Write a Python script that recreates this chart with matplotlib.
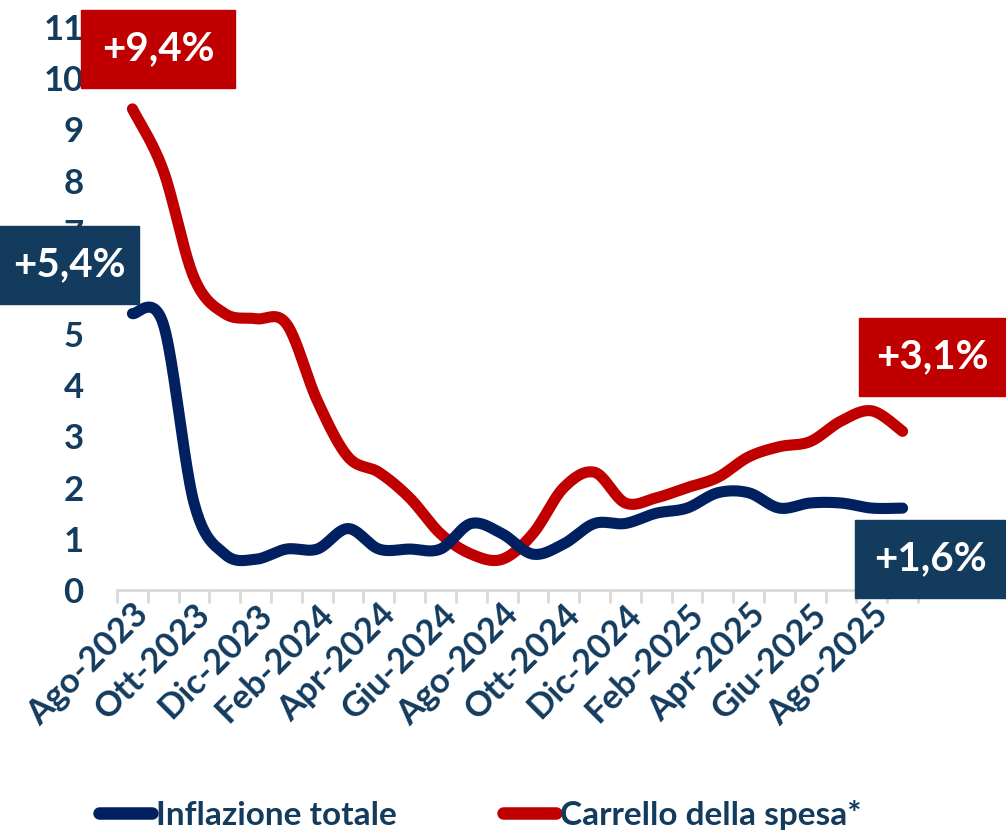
import numpy as np
import matplotlib.pyplot as plt
from matplotlib.lines import Line2D
from matplotlib.patches import Rectangle

mesi = ['Ago-2023', 'Set-2023', 'Ott-2023', 'Nov-2023', 'Dic-2023', 'Gen-2024',
        'Feb-2024', 'Mar-2024', 'Apr-2024', 'Mag-2024', 'Giu-2024', 'Lug-2024',
        'Ago-2024', 'Set-2024', 'Ott-2024', 'Nov-2024', 'Dic-2024', 'Gen-2025',
        'Feb-2025', 'Mar-2025', 'Apr-2025', 'Mag-2025', 'Giu-2025', 'Lug-2025',
        'Ago-2025', 'Set-2025']
inflazione = [5.4, 5.2, 1.7, 0.7, 0.6, 0.8, 0.8, 1.2, 0.8, 0.8, 0.8, 1.3, 1.1,
              0.7, 0.9, 1.3, 1.3, 1.5, 1.6, 1.9, 1.9, 1.6, 1.7, 1.7, 1.6, 1.6]
carrello = [9.4, 8.2, 6.1, 5.4, 5.3, 5.2, 3.7, 2.6, 2.3, 1.8, 1.1, 0.7, 0.6,
            1.1, 2.0, 2.3, 1.7, 1.8, 2.0, 2.2, 2.6, 2.8, 2.9, 3.3, 3.5, 3.1]
etichette = ['+9,4%', '+5,4%', '+3,1%', '+1,6%']

BLU = '#002060'
BLU_BOX = '#133B5E'
ROSSO = '#C00000'
FONT = ['Lato', 'DejaVu Sans']


def smooth(y, n=24):
    # bezier smoothing like excel's "smoothed line"
    x = np.arange(len(y), dtype=float)
    y = np.asarray(y, dtype=float)
    xs, ys = [], []
    t = np.linspace(0, 1, n)
    for i in range(len(y) - 1):
        a = max(i - 1, 0)
        b = min(i + 2, len(y) - 1)
        p0 = np.array([x[i], y[i]])
        p3 = np.array([x[i + 1], y[i + 1]])
        c1 = p0 + (p3 - np.array([x[a], y[a]])) / 6
        c2 = p3 - (np.array([x[b], y[b]]) - p0) / 6
        pts = ((1 - t) ** 3)[:, None] * p0 + (3 * (1 - t) ** 2 * t)[:, None] * c1 \
            + (3 * (1 - t) * t ** 2)[:, None] * c2 + (t ** 3)[:, None] * p3
        xs.extend(pts[:, 0])
        ys.extend(pts[:, 1])
    return xs, ys


plt.rcParams['font.family'] = FONT
plt.rcParams['font.weight'] = 'bold'

W, H = 1006, 839
fig = plt.figure(figsize=(W / 100, H / 100), dpi=100)
ax = fig.add_axes([117 / W, 1 - 590 / H, (918 - 117) / W, (590 - 27) / H])

xi, yi = smooth(inflazione)
xc, yc = smooth(carrello)
ax.plot(xc, yc, color=ROSSO, lw=8, solid_capstyle='round', zorder=3)
ax.plot(xi, yi, color=BLU, lw=8, solid_capstyle='round', zorder=3)

ax.set_xlim(-0.5, len(mesi) - 0.5)
ax.set_ylim(0, 11)
for s in ['top', 'right', 'left']:
    ax.spines[s].set_visible(False)
ax.spines['bottom'].set_color('#D9D9D9')
ax.spines['bottom'].set_linewidth(2)

ax.set_yticks(range(0, 12))
ax.tick_params(axis='y', length=0, pad=24, labelsize=25, labelcolor=BLU_BOX)

ax.set_xticks(np.arange(-0.5, len(mesi), 1))
ax.set_xticklabels([])
ax.tick_params(axis='x', which='major', length=9, width=2, color='#D9D9D9')
pos = np.arange(len(mesi))[::2]
ax.set_xticks(pos, minor=True)
ax.set_xticklabels([mesi[i] for i in pos], minor=True, rotation=45,
                   ha='right', va='top', rotation_mode='anchor')
ax.tick_params(axis='x', which='minor', length=0, pad=6, labelsize=25,
               labelcolor=BLU_BOX)

# riquadri con i valori
boxes = [(81, 10, 154, 78, ROSSO), (0, 226, 139, 78, BLU_BOX),
         (859, 318, 147, 78, ROSSO), (855, 520, 151, 78, BLU_BOX)]
for (x0, y0, w, h, c), lab in zip(boxes, etichette):
    fig.patches.append(Rectangle((x0 / W, 1 - (y0 + h) / H), w / W, h / H,
                                 transform=fig.transFigure, color=c, zorder=5))
    fig.text((x0 + w / 2) / W, 1 - (y0 + h / 2) / H, lab, color='white',
             fontsize=29, fontweight='bold', ha='center', va='center', zorder=6)

handles = [Line2D([], [], color=BLU, lw=9, solid_capstyle='round'),
           Line2D([], [], color=ROSSO, lw=9, solid_capstyle='round')]
fig.legend(handles, ['Inflazione totale', 'Carrello della spesa*'], ncol=2,
           loc='lower center', bbox_to_anchor=(480 / W, -0.025), frameon=False,
           prop={'family': FONT, 'weight': 'bold', 'size': 24},
           handlelength=1.6, handletextpad=0.1, columnspacing=3.2,
           labelcolor=BLU_BOX)

fig.savefig('out.png', dpi=100)
